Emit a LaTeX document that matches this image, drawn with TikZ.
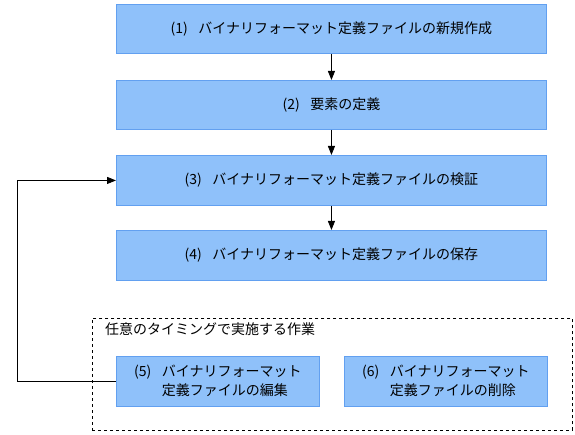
\documentclass[tikz,border=0pt]{standalone}
\usepackage{fontspec}
\setmainfont{Noto Sans CJK JP}
\usetikzlibrary{arrows.meta,positioning}
\definecolor{boxfill}{RGB}{143,193,250}
\definecolor{boxline}{RGB}{98,160,240}
\newcommand{\pfx}[1]{(#1)\hspace{0.75em}}
\begin{document}
\begin{tikzpicture}[x=1pt,y=-1pt,
  stepbox/.style={draw=boxline,fill=boxfill,line width=0.9pt,inner sep=0pt,anchor=north west,
    font=\fontsize{14}{19}\selectfont,align=center},
  conn/.style={line width=0.8pt,-{Triangle[length=9pt,width=7pt]}}]
\useasboundingbox (0,0) rectangle (575,435);
\node[stepbox,minimum width=430pt,minimum height=49pt] (s1) at (116,4) {\pfx{1}バイナリフォーマット定義ファイルの新規作成};
\node[stepbox,minimum width=430pt,minimum height=49pt] (s2) at (116,80) {\pfx{2}要素の定義};
\node[stepbox,minimum width=430pt,minimum height=50pt] (s3) at (116,155) {\pfx{3}バイナリフォーマット定義ファイルの検証};
\node[stepbox,minimum width=430pt,minimum height=50pt] (s4) at (116,230) {\pfx{4}バイナリフォーマット定義ファイルの保存};
\node[draw,dashed,line width=0.8pt,minimum width=480pt,minimum height=112pt,anchor=north west,inner sep=0pt] (grp) at (92,318) {};
\node[anchor=west,inner sep=0pt,font=\fontsize{14}{19}\selectfont] (title) at (105,329) {任意のタイミングで実施する作業};
\node[stepbox,minimum width=203pt,minimum height=50pt,align=left] (s5) at (116,356) {\pfx{5}バイナリフォーマット\\\phantom{\pfx{5}}定義ファイルの編集};
\node[stepbox,minimum width=203pt,minimum height=50pt,align=left] (s6) at (344,356) {\pfx{6}バイナリフォーマット\\\phantom{\pfx{6}}定義ファイルの削除};
\draw[conn] (s1) -- (s2);
\draw[conn] (s2) -- (s3);
\draw[conn] (s3) -- (s4);
\coordinate (lx) at (17,0);
\draw[conn] (s5.west) -- (lx |- s5.west) -- (lx |- s3.west) -- (s3.west);
\end{tikzpicture}
\end{document}
